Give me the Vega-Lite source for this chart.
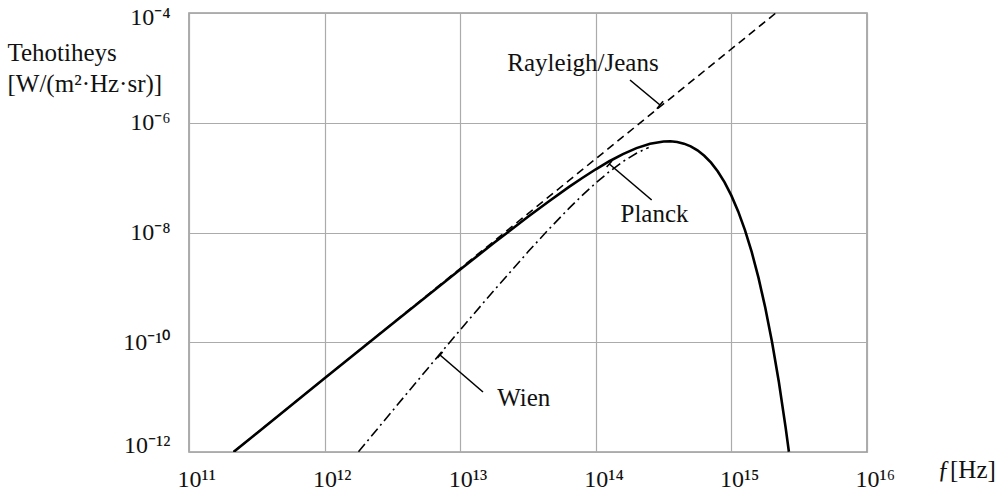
{
  "$schema": "https://vega.github.io/schema/vega-lite/v6.json",
  "width": 678,
  "height": 439,
  "autosize": {"type": "none"},
  "padding": {"left": 189, "top": 13, "right": 139, "bottom": 43},
  "background": "white",
  "config": {
    "view": {"stroke": "#9a9a9a", "strokeWidth": 1.6},
    "font": "Times New Roman, Liberation Serif, serif",
    "axis": {
      "labelFont": "Times New Roman, Liberation Serif, serif",
      "titleFont": "Times New Roman, Liberation Serif, serif",
      "labelColor": "#111111",
      "titleColor": "#111111",
      "gridColor": "#ababab",
      "gridWidth": 1.2,
      "gridOpacity": 1,
      "ticks": false,
      "tickSize": 0,
      "domain": false,
      "titleFontWeight": "normal"
    },
    "text": {"font": "Times New Roman, Liberation Serif, serif"}
  },
  "datasets": {
    "curves": [
      {"s": "Planck", "f": 2.138e11, "v": 1.008e-12},
      {"s": "Planck", "f": 3.162e11, "v": 2.205e-12},
      {"s": "Planck", "f": 1e12, "v": 2.199e-11},
      {"s": "Planck", "f": 3.162e12, "v": 2.180e-10},
      {"s": "Planck", "f": 1e13, "v": 2.118e-9},
      {"s": "Planck", "f": 1.778e13, "v": 6.480e-9},
      {"s": "Planck", "f": 3.162e13, "v": 1.932e-8},
      {"s": "Planck", "f": 4.467e13, "v": 3.641e-8},
      {"s": "Planck", "f": 6.310e13, "v": 6.696e-8},
      {"s": "Planck", "f": 7.943e13, "v": 9.854e-8},
      {"s": "Planck", "f": 1e14, "v": 1.420e-7},
      {"s": "Planck", "f": 1.259e14, "v": 1.989e-7},
      {"s": "Planck", "f": 1.585e14, "v": 2.685e-7},
      {"s": "Planck", "f": 1.995e14, "v": 3.450e-7},
      {"s": "Planck", "f": 2.512e14, "v": 4.148e-7},
      {"s": "Planck", "f": 3.162e14, "v": 4.564e-7},
      {"s": "Planck", "f": 3.548e14, "v": 4.588e-7},
      {"s": "Planck", "f": 3.981e14, "v": 4.456e-7},
      {"s": "Planck", "f": 4.467e14, "v": 4.159e-7},
      {"s": "Planck", "f": 5.012e14, "v": 3.709e-7},
      {"s": "Planck", "f": 5.623e14, "v": 3.141e-7},
      {"s": "Planck", "f": 6.310e14, "v": 2.506e-7},
      {"s": "Planck", "f": 7.079e14, "v": 1.869e-7},
      {"s": "Planck", "f": 7.943e14, "v": 1.291e-7},
      {"s": "Planck", "f": 8.913e14, "v": 8.177e-8},
      {"s": "Planck", "f": 1e15, "v": 4.699e-8},
      {"s": "Planck", "f": 1.122e15, "v": 2.422e-8},
      {"s": "Planck", "f": 1.259e15, "v": 1.103e-8},
      {"s": "Planck", "f": 1.413e15, "v": 4.378e-9},
      {"s": "Planck", "f": 1.585e15, "v": 1.487e-9},
      {"s": "Planck", "f": 1.778e15, "v": 4.249e-10},
      {"s": "Planck", "f": 1.995e15, "v": 9.984e-11},
      {"s": "Planck", "f": 2.239e15, "v": 1.885e-11},
      {"s": "Planck", "f": 2.512e15, "v": 2.785e-12},
      {"s": "Planck", "f": 2.655e15, "v": 1.012e-12},
      {"s": "RJ", "f": 2.128e11, "v": 1e-12},
      {"s": "RJ", "f": 2.128e15, "v": 1e-4},
      {"s": "Wien", "f": 1.778e12, "v": 1.011e-12},
      {"s": "Wien", "f": 3.162e12, "v": 5.620e-12},
      {"s": "Wien", "f": 5.623e12, "v": 3.097e-11},
      {"s": "Wien", "f": 1e13, "v": 1.680e-10},
      {"s": "Wien", "f": 1.778e13, "v": 8.857e-10},
      {"s": "Wien", "f": 3.162e13, "v": 4.443e-9},
      {"s": "Wien", "f": 4.467e13, "v": 1.124e-8},
      {"s": "Wien", "f": 6.310e13, "v": 2.721e-8},
      {"s": "Wien", "f": 7.943e13, "v": 4.743e-8},
      {"s": "Wien", "f": 1e14, "v": 7.986e-8},
      {"s": "Wien", "f": 1.259e14, "v": 1.286e-7},
      {"s": "Wien", "f": 1.585e14, "v": 1.961e-7},
      {"s": "Wien", "f": 1.995e14, "v": 2.787e-7},
      {"s": "Wien", "f": 2.455e14, "v": 3.549e-7}
    ],
    "leaders": [
      {"f1": 1.787e14, "v1": 6.012e-6, "f2": 2.975e14, "v2": 2.106e-6},
      {"f1": 2.822e14, "v1": 1.803e-6, "f2": 3.135e14, "v2": 2.460e-6},
      {"f1": 1.258e14, "v1": 1.771e-7, "f2": 2.583e14, "v2": 3.911e-8},
      {"f1": 1.203e14, "v1": 1.562e-7, "f2": 1.314e14, "v2": 2.009e-7},
      {"f1": 7.096e12, "v1": 5.857e-11, "f2": 1.473e13, "v2": 1.240e-11},
      {"f1": 6.791e12, "v1": 5.164e-11, "f2": 7.419e12, "v2": 6.643e-11}
    ],
    "labels": [
      {"label": "Rayleigh/Jeans", "f": 8.045e13, "v": 8.882e-6},
      {"label": "Planck", "f": 2.709e14, "v": 1.534e-8},
      {"label": "Wien", "f": 2.940e13, "v": 6.977e-12}
    ]
  },
  "layer": [
    {
      "data": {"name": "curves"},
      "transform": [{"filter": "datum.s === 'RJ'"}],
      "mark": {"type": "line", "color": "black", "strokeWidth": 1.6, "strokeDash": [8, 5], "clip": true},
      "encoding": {
        "x": {
          "field": "f",
          "type": "quantitative",
          "scale": {"type": "log", "domain": [1e11, 1e16], "nice": false},
          "axis": {
            "values": [1e11, 1e12, 1e13, 1e14, 1e15, 1e16],
            "labelExpr": "datum.value < 5e11 ? '10¹¹' : datum.value < 5e12 ? '10¹²' : datum.value < 5e13 ? '10¹³' : datum.value < 5e14 ? '10¹⁴' : datum.value < 5e15 ? '10¹⁵' : '10¹⁶'",
            "grid": true,
            "labelFontSize": 24,
            "labelAlign": "left",
            "labelOffset": -12,
            "labelBaseline": "alphabetic",
            "labelPadding": 34,
            "labelFlush": false,
            "labelOverlap": false,
            "title": "ƒ[Hz]",
            "titleFontSize": 25,
            "titleAlign": "left",
            "titleAnchor": "start",
            "titleBaseline": "alphabetic",
            "titleX": 748,
            "titleY": 25
          }
        },
        "y": {
          "field": "v",
          "type": "quantitative",
          "scale": {"type": "log", "domain": [1e-12, 1e-4], "nice": false},
          "axis": {
            "values": [1e-12, 1e-10, 1e-8, 1e-6, 1e-4],
            "labelExpr": "datum.value < 5e-12 ? '10⁻¹²' : datum.value < 5e-10 ? '10⁻¹⁰' : datum.value < 5e-8 ? '10⁻⁸' : datum.value < 5e-6 ? '10⁻⁶' : '10⁻⁴'",
            "grid": true,
            "labelFontSize": 24,
            "labelPadding": 19,
            "labelOverlap": false,
            "labelOffset": {"condition": [{"test": "datum.value > 5e-5", "value": 4}, {"test": "datum.value < 5e-12", "value": -7}], "value": 0},
            "title": ["Tehotiheys", "[W/(m²·Hz·sr)]"],
            "titleFontSize": 25,
            "titleAngle": 0,
            "titleAlign": "left",
            "titleAnchor": "start",
            "titleBaseline": "alphabetic",
            "titleLineHeight": 31,
            "titleX": -182,
            "titleY": 47
          }
        }
      }
    },
    {
      "data": {"name": "curves"},
      "transform": [{"filter": "datum.s === 'Wien'"}],
      "mark": {"type": "line", "color": "black", "strokeWidth": 1.6, "strokeDash": [10, 4, 2, 4], "clip": true},
      "encoding": {
        "x": {"field": "f", "type": "quantitative"},
        "y": {"field": "v", "type": "quantitative"}
      }
    },
    {
      "data": {"name": "curves"},
      "transform": [{"filter": "datum.s === 'Planck'"}],
      "mark": {"type": "line", "color": "black", "strokeWidth": 2.6, "clip": true},
      "encoding": {
        "x": {"field": "f", "type": "quantitative"},
        "y": {"field": "v", "type": "quantitative"}
      }
    },
    {
      "data": {"name": "leaders"},
      "mark": {"type": "rule", "color": "black", "strokeWidth": 1.6},
      "encoding": {
        "x": {"field": "f1", "type": "quantitative"},
        "y": {"field": "v1", "type": "quantitative"},
        "x2": {"field": "f2"},
        "y2": {"field": "v2"}
      }
    },
    {
      "data": {"name": "labels"},
      "mark": {"type": "text", "fontSize": 25, "color": "#111111", "align": "center", "baseline": "alphabetic"},
      "encoding": {
        "x": {"field": "f", "type": "quantitative"},
        "y": {"field": "v", "type": "quantitative"},
        "text": {"field": "label"}
      }
    }
  ]
}
